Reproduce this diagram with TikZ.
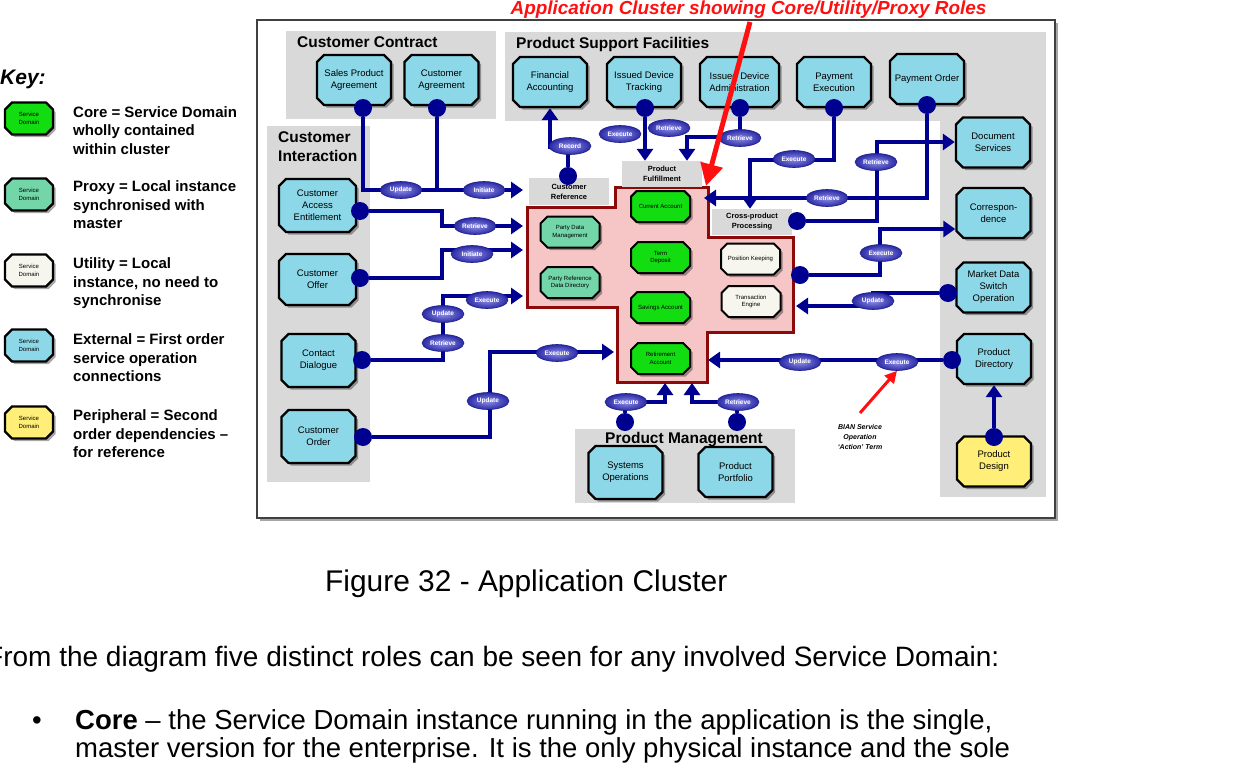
\documentclass[tikz,border=0pt]{standalone}
\usepackage{fontspec}
\setmainfont{Liberation Sans}
\usepackage{tikz}
\usetikzlibrary{shapes.geometric, shapes.misc, arrows.meta}
\definecolor{linkblue}{HTML}{000090}
\definecolor{opedge}{HTML}{1B1B8A}
\definecolor{opinner}{HTML}{8E8EE6}
\definecolor{opouter}{HTML}{2A2AA6}
\definecolor{panelgray}{HTML}{D9D9D9}
\definecolor{extcyan}{HTML}{8DD8E8}
\definecolor{coregreen}{HTML}{11DD11}
\definecolor{proxygreen}{HTML}{72D6A9}
\definecolor{utilwhite}{HTML}{F6F6EE}
\definecolor{periyellow}{HTML}{FFEE77}
\definecolor{clusterpink}{HTML}{F6C5C5}
\definecolor{clusterred}{HTML}{8C0A0A}
\definecolor{titlered}{HTML}{FF1010}
\tikzset{
  sd/.style={chamfered rectangle, chamfered rectangle xsep=3.5pt, chamfered rectangle ysep=3.5pt, draw=black, line width=2.4pt, align=center, inner sep=0pt, preaction={fill=black, opacity=0.35, transform canvas={xshift=2.5pt, yshift=-2.5pt}}},
  ext/.style={sd, fill=extcyan, minimum width=74pt, minimum height=50pt, font=\fontsize{9.5}{12}\selectfont},
  peri/.style={ext, fill=periyellow},
  core/.style={sd, fill=coregreen, line width=2pt, minimum width=59pt, minimum height=31pt, font=\fontsize{6}{7.5}\selectfont},
  proxy/.style={core, fill=proxygreen},
  util/.style={core, fill=utilwhite},
  keybox/.style={sd, minimum width=48pt, minimum height=32pt, font=\fontsize{6}{7.5}\selectfont},
  lbl/.style={fill=panelgray, minimum width=80pt, minimum height=27pt, inner sep=0pt, align=center, font=\bfseries\fontsize{7.5}{10}\selectfont},
  grouptitle/.style={anchor=base west, inner sep=0pt, align=left, font=\bfseries\fontsize{15.5}{19}\selectfont},
  keytext/.style={anchor=north west, inner sep=0pt, align=left, font=\bfseries\fontsize{15}{18.7}\selectfont},
  dot/.style={circle, fill=linkblue, minimum size=18pt, inner sep=0pt},
  link/.style={draw=linkblue, line width=4.5pt},
  arr/.style={link, -{Triangle[width=16pt,length=12pt]}},
  op/.style={ellipse, draw=opedge, line width=0.6pt, inner color=opinner, outer color=opouter, minimum width=42pt, minimum height=17pt, inner sep=0pt, text=white, font=\bfseries\fontsize{6.5}{7}\selectfont},
  panel/.style={fill=panelgray},
  cluster/.style={fill=clusterpink, draw=clusterred, line width=3pt},
  redarr/.style={draw=titlered, line width=5pt, -{Triangle[width=22pt,length=22pt]}},
  bodytext/.style={anchor=base west, inner sep=0pt, font=\fontsize{27.5}{28}\selectfont},
}
\begin{document}
\begin{tikzpicture}[x=1pt,y=1pt,yscale=-1,xscale=1]
\useasboundingbox (0,0) rectangle (1237,771);
\clip (0,0) rectangle (1237,771);

% Key
\node[anchor=base west, inner sep=0pt, font=\bfseries\itshape\fontsize{21}{24}\selectfont] (keyttl) at (0,84) {Key:};
\node[keybox, fill=coregreen] (kcore) at (29,118.5) {Service\\Domain};
\node[keybox, fill=proxygreen] (kproxy) at (29,194.5) {Service\\Domain};
\node[keybox, fill=utilwhite] (kutil) at (29,270.5) {Service\\Domain};
\node[keybox, fill=extcyan] (kext) at (29,345.5) {Service\\Domain};
\node[keybox, fill=periyellow] (kperi) at (29,422.5) {Service\\Domain};
% Text Node
\node[keytext] (tcore) at (73,106) {Core = Service Domain\\wholly contained\\within cluster};
\node[keytext] (tproxy) at (73,180.5) {Proxy = Local instance\\synchronised with\\master};
\node[keytext] (tutil) at (73,257.5) {Utility = Local\\instance, no need to\\synchronise};
\node[keytext] (text) at (73,333.5) {External = First order\\service operation\\connections};
\node[keytext] (tperi) at (73,409.5) {Peripheral = Second\\order dependencies --\\for reference};

%Shape: Frame
\draw[draw=black!75, line width=1.5pt, fill=white, preaction={fill=black!35, transform canvas={xshift=3pt, yshift=-3pt}}] (257,20) rectangle (1055,518);
% Text Node
\node[anchor=base, inner sep=0pt, text=titlered, font=\bfseries\itshape\fontsize{18.9}{22}\selectfont] (title) at (748.5,14) {Application Cluster showing Core/Utility/Proxy Roles};

%Shape: Panels
\fill[panel] (286,31) rectangle (496,119);
\fill[panel] (505,32) rectangle (1046,121);
\fill[panel] (940,32) rectangle (1046,497);
\fill[panel] (267,126) rectangle (370,482);
\fill[panel] (575,429) rectangle (795,503);
\node[grouptitle] (gcc) at (297,47) {Customer Contract};
\node[grouptitle] (gpsf) at (516,48) {Product Support Facilities};
\node[grouptitle] (gci) at (278,161) {Customer\\Interaction};
\node[grouptitle] (gpm) at (605,443) {Product Management};

%Shape: Application cluster
\draw[cluster] (527,207) -- (615,207) -- (615,187) -- (708,187) -- (708,237) -- (793,237) -- (793,332) -- (707,332) -- (707,382) -- (617,382) -- (617,307) -- (527,307) -- cycle;
\node[lbl] (crf) at (569,191.5) {Customer\\Reference};
\node[lbl, minimum height=26pt] (pfu) at (662,174) {Product\\Fulfillment};
\node[lbl, minimum height=26pt] (cpp) at (752,222) {Cross-product\\Processing};

% Service domains in cluster
\node[core] (cac) at (660.5,206.5) {Current Account};
\node[core] (tdp) at (660.5,257.5) {Term\\Deposit};
\node[core] (sac) at (660.5,307.5) {Savings Account};
\node[core] (rac) at (660.5,358.5) {Retirement\\Account};
\node[proxy] (pdm) at (570,232) {Party Data\\Management};
\node[proxy] (prd) at (570,282.5) {Party Reference\\Data Directory};
\node[util] (pke) at (750.5,259) {Position Keeping};
\node[util] (ten) at (751,301.5) {Transaction\\Engine};

% External service domains
\node[ext] (spa) at (354,80) {Sales Product\\Agreement};
\node[ext] (cag) at (441.5,80) {Customer\\Agreement};
\node[ext] (fac) at (550,82) {Financial\\Accounting};
\node[ext] (idt) at (644,82) {Issued Device\\Tracking};
\node[ext, minimum width=79pt] (ida) at (739.5,82) {Issued Device\\Administration};
\node[ext] (pex) at (834,82) {Payment\\Execution};
\node[ext] (por) at (927,79) {Payment Order};
\node[ext] (dcs) at (993,142.5) {Document\\Services};
\node[ext] (corr) at (993.5,213) {Correspon-\\dence};
\node[ext] (mds) at (993.5,287.5) {Market Data\\Switch\\Operation};
\node[ext] (pdi) at (994,359) {Product\\Directory};
\node[peri] (pde) at (994,461.5) {Product\\Design};
\node[ext, minimum width=77pt, minimum height=53pt] (cae) at (317.5,205.5) {Customer\\Access\\Entitlement};
\node[ext, minimum width=77pt, minimum height=51pt] (cof) at (317.5,279.5) {Customer\\Offer};
\node[ext, minimum height=53pt] (cdi) at (318.5,360.5) {Contact\\Dialogue};
\node[ext, minimum height=53pt] (cord) at (318.5,436.5) {Customer\\Order};
\node[ext, minimum height=53pt] (syo) at (625.5,472.5) {Systems\\Operations};
\node[ext] (ppf) at (735.5,472) {Product\\Portfolio};

% Connector ends
\node[dot] (dspa) at (363,108) {};
\node[dot] (dcag) at (437,108) {};
\node[dot] (dcrf) at (568,176) {};
\node[dot] (didt) at (645,108) {};
\node[dot] (dida) at (740,108) {};
\node[dot] (dpex) at (834,108) {};
\node[dot] (dpor) at (927,105) {};
\node[dot] (dcpp) at (797,221) {};
\node[dot] (dpke) at (800,275) {};
\node[dot] (dmds) at (948,293) {};
\node[dot] (dpdi) at (952,360) {};
\node[dot] (dpde) at (994,437) {};
\node[dot] (dsyo) at (625,422) {};
\node[dot] (dppf) at (737,422) {};
\node[dot] (dcae) at (360,211) {};
\node[dot] (dcof) at (360,278) {};
\node[dot] (dcdi) at (362,360) {};
\node[dot] (dcord) at (363,437) {};

\coordinate (t1) at (523,190);
\coordinate (w3) at (550,147);
\coordinate (w5) at (687,137);
\coordinate (w6) at (750,160);
\coordinate (t7) at (704,198);
\coordinate (w8) at (877,142);
\coordinate (w9) at (880,229);
\coordinate (w10) at (873,306);
\coordinate (t10) at (796,306);
\coordinate (t11) at (708,360);
\coordinate (w13) at (665,402);
\coordinate (t13) at (665,383);
\coordinate (w14) at (692,402);
\coordinate (t14) at (692,383);
\coordinate (w15) at (442,226);
\coordinate (t15) at (523,226);
\coordinate (w16) at (442,250);
\coordinate (t16) at (523,250);
\coordinate (w17) at (443,296);
\coordinate (t17) at (523,296);
\coordinate (w18) at (490,352);
\coordinate (t18) at (614,352);

%Straight Lines
\draw[arr] (dspa) |- (t1);
\draw[link] (dcag) -- (dcag |- t1);
\draw[arr] (dcrf) |- (w3) -- (fac.south);
\draw[arr] (didt) -- (didt |- pfu.north);
\draw[arr] (dida) |- (w5) -- (w5 |- pfu.north);
\draw[arr] (dpex) |- (w6) -- (w6 |- cpp.north);
\draw[arr] (dpor) |- (t7);
\draw[arr] (dcpp) -| (w8) -- (w8 -| dcs.west);
\draw[arr] (dpke) -| (w9) -- (w9 -| corr.west);
\draw[arr] (dmds) -| (w10) -- (t10);
\draw[arr] (dpdi) -- (t11);
\draw[arr] (dpde) -- (pdi.south);
\draw[arr] (dsyo) |- (w13) -- (t13);
\draw[arr] (dppf) |- (w14) -- (t14);
\draw[arr] (dcae) -| (w15) -- (t15);
\draw[arr] (dcof) -| (w16) -- (t16);
\draw[arr] (dcdi) -| (w17) -- (t17);
\draw[arr] (dcord) -| (w18) -- (t18);

% Service operations
\node[op] (opupd1) at (401,190) {Update};
\node[op] (opini1) at (484,190) {Initiate};
\node[op] (oprec) at (570,146) {Record};
\node[op] (opexe1) at (620,134) {Execute};
\node[op] (opret1) at (669,128) {Retrieve};
\node[op] (opret2) at (740,138) {Retrieve};
\node[op] (opexe2) at (794,159) {Execute};
\node[op] (opret3) at (827,198) {Retrieve};
\node[op] (opret4) at (876,162) {Retrieve};
\node[op] (opexe3) at (881,253) {Execute};
\node[op] (opupd2) at (873,301) {Update};
\node[op] (opupd3) at (800,362) {Update};
\node[op] (opexe4) at (897,362) {Execute};
\node[op] (opret5) at (475,226) {Retrieve};
\node[op] (opini2) at (472,254) {Initiate};
\node[op] (opexe5) at (487,300) {Execute};
\node[op] (opupd4) at (443,314) {Update};
\node[op] (opret6) at (443,343) {Retrieve};
\node[op] (opupd5) at (488,401) {Update};
\node[op] (opexe6) at (557,353) {Execute};
\node[op] (opexe7) at (626,402) {Execute};
\node[op] (opret7) at (738,402) {Retrieve};

% Callouts
\coordinate (callout) at (750,22);
\coordinate (callouttip) at (706,186);
\draw[redarr] (callout) -- (callouttip);
\node[align=center, inner sep=0pt, font=\bfseries\itshape\fontsize{7}{10}\selectfont] (bian) at (860,437) {BIAN Service\\Operation\\`Action' Term};
\coordinate (bianfoot) at (860,413);
\draw[draw=titlered, line width=3pt, -{Triangle[width=12pt,length=12pt]}] (bianfoot) -- (opexe4.south);

% Text Node
\node[anchor=base west, inner sep=0pt, font=\fontsize{29.9}{34}\selectfont] (caption) at (325,591) {Figure 32 - Application Cluster};
\node[bodytext, font=\fontsize{28}{28}\selectfont] (intro) at (-14,666) {From the diagram five distinct roles can be seen for any involved Service Domain:};
\node[bodytext] (bullet) at (32,729) {\textbullet};
\node[bodytext] (core1) at (75,729) {\textbf{Core} – the Service Domain instance running in the application is the single,};
\node[bodytext] (core2) at (75,757) {master version for the enterprise. It is the only physical instance and the sole};
\end{tikzpicture}
\end{document}
